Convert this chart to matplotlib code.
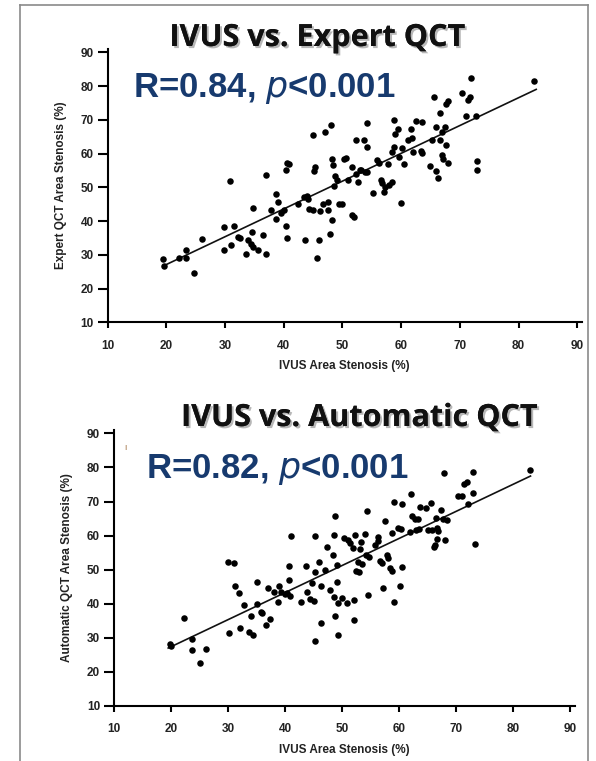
import matplotlib
matplotlib.use("Agg")
import matplotlib.pyplot as plt
import matplotlib.patheffects as pe
from matplotlib.lines import Line2D
import numpy as np

# ── Data ──────────────────────────────────────────────────────────────────────

expert_x = [19.5, 19.6, 22.1, 23.4, 23.4, 24.7, 26.0, 29.9, 29.9, 30.9, 31.0, 31.5,
            32.2, 32.6, 33.5, 33.9, 34.4, 34.6, 34.8, 34.8, 35.7, 36.4, 37.0, 37.0,
            37.8, 38.7, 38.7, 39.0, 39.6, 40.0, 40.4, 40.6, 40.9, 40.4, 40.6, 42.5,
            43.5, 43.6, 44.0, 44.2, 44.3, 45.0, 45.0, 45.1, 45.3, 45.6, 46.0, 46.1,
            46.7, 47.1, 47.5, 47.5, 47.9, 48.1, 48.2, 48.2, 48.4, 48.6, 48.8, 49.0,
            49.4, 50.0, 50.3, 50.6, 50.9, 51.6, 51.6, 51.9, 52.3, 52.3, 52.6, 53.0,
            53.2, 53.6, 53.8, 54.2, 54.2, 54.2, 55.2, 55.8, 56.2, 56.5, 56.8, 57.0,
            57.3, 57.8, 57.9, 58.4, 58.4, 58.8, 58.8, 59.0, 59.4, 59.7, 60.0, 60.2,
            60.4, 61.2, 61.7, 61.8, 62.0, 62.5, 63.3, 63.6, 63.6, 64.9, 65.2, 65.6,
            65.9, 65.9, 66.2, 66.6, 66.6, 66.9, 67.0, 67.2, 67.5, 67.6, 67.6, 68.0,
            68.0, 70.4, 71.0, 71.4, 71.7, 71.9, 72.7, 73.0, 73.0, 82.7]
expert_y = [28.9, 26.6, 29.1, 31.4, 29.2, 24.5, 34.7, 38.2, 31.4, 51.8, 32.8, 38.6,
            35.3, 35.1, 30.2, 34.3, 33.3, 36.9, 44.0, 32.4, 31.4, 36.0, 53.8, 30.1,
            43.2, 47.9, 40.5, 45.6, 42.4, 43.2, 55.2, 57.2, 56.8, 38.6, 35.1, 45.0,
            47.1, 34.3, 47.4, 46.4, 43.7, 65.4, 43.2, 54.8, 56.0, 29.2, 34.5, 43.0,
            45.0, 66.4, 45.7, 43.4, 36.3, 68.5, 58.5, 40.4, 56.5, 50.3, 53.5, 52.1,
            45.2, 45.2, 58.5, 58.8, 52.1, 56.0, 41.7, 41.2, 64.1, 54.0, 51.6, 55.2,
            55.0, 63.9, 54.5, 69.0, 61.9, 54.5, 48.3, 58.0, 57.2, 52.1, 51.3, 48.6,
            50.1, 57.0, 50.6, 51.6, 60.4, 70.0, 62.1, 65.7, 67.3, 59.0, 45.4, 61.7,
            57.0, 63.9, 67.3, 64.6, 60.4, 69.6, 60.7, 69.3, 60.1, 56.3, 63.9, 76.9,
            68.0, 54.8, 52.8, 64.1, 72.0, 59.5, 66.4, 58.5, 67.8, 62.4, 74.7, 75.7,
            57.2, 77.9, 71.0, 75.9, 76.7, 82.3, 71.0, 57.7, 55.2, 81.6]

auto_x = [19.9, 20.0, 22.3, 23.7, 23.7, 25.0, 26.2, 30.0, 31.0, 30.2, 31.2, 31.9,
          32.0, 32.8, 33.7, 34.0, 34.3, 35.0, 35.0, 35.7, 36.0, 36.7, 37.0, 37.3,
          38.0, 38.8, 39.0, 39.3, 39.9, 40.3, 40.7, 40.7, 41.0, 40.8, 42.7, 43.7,
          43.9, 44.3, 44.7, 45.0, 45.2, 45.3, 45.3, 45.9, 46.3, 46.3, 47.0, 47.3,
          47.9, 48.3, 48.5, 48.5, 48.7, 48.7, 49.0, 49.0, 49.2, 49.3, 50.0, 50.3,
          50.8, 51.0, 51.3, 51.9, 52.0, 52.0, 52.3, 52.5, 52.7, 53.0, 53.2, 53.3,
          53.5, 54.0, 54.1, 54.3, 54.5, 54.7, 55.7, 56.3, 56.3, 56.7, 57.0, 57.2,
          57.5, 57.9, 58.1, 58.3, 58.7, 58.7, 59.0, 59.0, 59.7, 60.1, 60.3, 60.5,
          60.5, 61.9, 62.1, 62.3, 62.7, 63.0, 63.3, 63.5, 63.7, 64.7, 65.0, 65.5,
          65.7, 66.0, 66.3, 66.5, 66.7, 66.8, 66.7, 67.3, 67.7, 67.9, 68.0, 68.3,
          70.3, 71.0, 71.3, 71.9, 72.0, 73.0, 73.0, 73.2, 82.9]
auto_y = [28.3, 27.6, 35.7, 29.6, 26.3, 22.5, 26.6, 52.3, 51.9, 31.5, 45.3, 43.3,
          33.0, 39.6, 31.7, 36.5, 30.8, 46.3, 39.9, 37.6, 37.4, 33.7, 44.5, 35.5,
          43.5, 40.6, 45.3, 43.5, 42.8, 43.3, 47.0, 51.2, 59.9, 42.2, 40.4, 51.0,
          43.5, 41.4, 46.1, 40.9, 49.3, 59.8, 29.1, 52.4, 45.1, 34.5, 49.8, 56.8,
          44.1, 54.2, 60.3, 41.9, 65.7, 36.3, 46.3, 51.4, 30.7, 40.2, 41.6, 59.3,
          40.2, 58.6, 57.9, 56.4, 41.1, 35.3, 60.3, 49.5, 52.4, 49.3, 56.0, 58.1,
          51.7, 60.6, 54.2, 67.3, 42.6, 53.7, 57.3, 59.6, 58.3, 52.7, 52.0, 44.5,
          64.2, 54.2, 53.5, 50.4, 49.5, 60.9, 40.4, 69.8, 62.1, 45.1, 61.9, 50.7,
          69.2, 61.1, 72.1, 65.8, 64.8, 61.6, 64.8, 61.9, 68.5, 68.2, 61.6, 69.5,
          61.6, 56.6, 57.3, 65.2, 62.3, 61.3, 59.1, 67.5, 64.8, 78.3, 58.6, 64.5,
          71.7, 71.7, 75.1, 75.6, 69.2, 72.4, 78.8, 57.6, 79.2]

# regression lines (slope, intercept) and x-range as drawn in the figure
expert_fit = (0.824, 10.64)
auto_fit = (0.795, 11.5)
fit_range = (19.5, 83.0)

ticks = [10, 20, 30, 40, 50, 60, 70, 80, 90]

BLUE = "#173a6e"
SANS = "Liberation Sans"

fig = plt.figure(figsize=(5.96, 7.61), dpi=100)
W, H = 596, 761


def px_axes(left, top, right, bottom):
    return fig.add_axes([left / W, 1 - bottom / H, (right - left) / W, (bottom - top) / H])


def draw_panel(ax, xs, ys, fit, ylabel):
    ax.scatter(xs, ys, s=22, color="black", zorder=3, linewidths=0)
    lx = np.array(fit_range)
    ax.plot(lx, fit[0] * lx + fit[1], color="#111111", linewidth=1.2, zorder=2)
    ax.set_xlim(10, 90.8)
    ax.set_ylim(10, 91)
    ax.set_xticks(ticks)
    ax.set_yticks(ticks)
    for s in ["top", "right"]:
        ax.spines[s].set_visible(False)
    for s in ["left", "bottom"]:
        ax.spines[s].set_linewidth(1.5)
    ax.tick_params(axis="y", length=7, width=1.5, pad=3)
    ax.tick_params(axis="x", length=4.5, width=1.5, pad=8)
    for lab in ax.get_xticklabels() + ax.get_yticklabels():
        lab.set_fontfamily(SANS)
        lab.set_fontweight("bold")
        lab.set_fontsize(8.5)
        lab.set_color("#222222")
    ax.set_xlabel("IVUS Area Stenosis (%)", fontfamily=SANS, fontweight="bold",
                  fontsize=8.5, color="#222222", labelpad=6)
    ax.set_ylabel(ylabel, fontfamily=SANS, fontweight="bold",
                  fontsize=8.5, color="#222222", labelpad=10)


# ── Top panel ─────────────────────────────────────────────────────────────────
ax1 = px_axes(107.6, 49, 582, 322.3)
draw_panel(ax1, expert_x, expert_y, expert_fit, "Expert QCT Area Stenosis (%)")

# ── Bottom panel ──────────────────────────────────────────────────────────────
ax2 = px_axes(114, 430, 575, 706)
draw_panel(ax2, auto_x, auto_y, auto_fit, "Automatic QCT Area Stenosis (%)")

shadow = [pe.withSimplePatchShadow(offset=(1.5, -1.5), shadow_rgbFace="#888888", alpha=0.6),
          pe.Normal()]

fig.text(317 / W, 1 - 38 / H, "IVUS vs. Expert QCT", ha="center", va="center",
         fontfamily="Open Sans", fontweight="bold", fontsize=22, color="#111111",
         path_effects=shadow)
fig.text(359 / W, 1 - 418 / H, "IVUS vs. Automatic QCT", ha="center", va="center",
         fontfamily="Open Sans", fontweight="bold", fontsize=22, color="#111111",
         path_effects=shadow)

fig.text(133 / W, 1 - 97 / H, r"R=0.84, $\mathit{p}$<0.001", ha="left", va="baseline",
         fontfamily=SANS, fontweight="bold", fontsize=25, color=BLUE)
fig.text(146 / W, 1 - 478 / H, r"R=0.82, $\mathit{p}$<0.001", ha="left", va="baseline",
         fontfamily=SANS, fontweight="bold", fontsize=25, color=BLUE)

# small stray mark in the lower panel
fig.text(125 / W, 1 - 447 / H, "ı", ha="center", va="center", fontsize=6, color="#a07040")

# grey frame around the composite
frame_kw = dict(color="#8a8a8a", linewidth=1.2, transform=fig.transFigure)
fig.add_artist(Line2D([19.5 / W, 19.5 / W], [0, 1 - 5 / H], **frame_kw))
fig.add_artist(Line2D([19.5 / W, 587.5 / W], [1 - 5 / H, 1 - 5 / H], **frame_kw))
fig.add_artist(Line2D([587.5 / W, 587.5 / W], [0, 1 - 5 / H], **frame_kw))

fig.savefig("out.png", dpi=100)
